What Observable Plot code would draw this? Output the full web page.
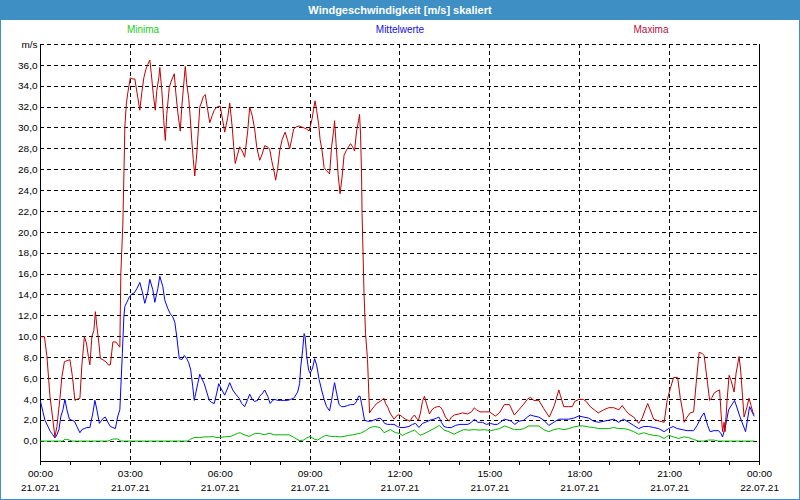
<!DOCTYPE html>
<html><head><meta charset="utf-8">
<script src="https://cdn.jsdelivr.net/npm/d3@7"></script>
<script src="https://cdn.jsdelivr.net/npm/@observablehq/plot@0.6"></script>
<style>
html,body{margin:0;padding:0;background:#fff;}
#frame{position:relative;width:800px;height:500px;box-sizing:border-box;border:1px solid #3d8fc4;border-top:none;font-family:"Liberation Sans",Arial,sans-serif;overflow:hidden;background:#fff;}
#title{position:absolute;left:-1px;top:0;width:800px;height:20px;background:#3d8fc4;color:#fff;font-weight:bold;font-size:11px;line-height:20px;text-align:center;}
.leg{position:absolute;top:24px;font-size:10px;line-height:12px;transform:translateX(-50%);white-space:nowrap;}
#chart{position:absolute;left:-1px;top:38px;}
</style></head>
<body>
<div id="frame">
  <div id="title">Windgeschwindigkeit [m/s] skaliert</div>
  <div class="leg" style="left:142px;color:#22cc22">Minima</div>
  <div class="leg" style="left:399px;color:#1010e0">Mittelwerte</div>
  <div class="leg" style="left:650px;color:#b5103c">Maxima</div>
  <div id="chart"></div>
</div>
<script>
// time in minutes since 21.07.21 00:00, value in m/s
const maxima = [[0,10.0],[8,10.0],[13,8.1],[19,4.3],[25,2.0],[29,0.4],[33,1.4],[39,4.1],[43,6.2],[48,7.6],[53,7.7],[59,7.8],[64,6.2],[69,3.9],[73,4.0],[79,4.1],[83,7.3],[88,10.0],[92,9.4],[96,8.1],[99,7.3],[103,10.0],[107,10.6],[110,12.4],[113,11.0],[117,9.4],[120,7.9],[125,7.8],[131,7.6],[136,7.3],[140,7.3],[145,9.5],[151,9.5],[159,9.0],[161,16.1],[165,20.8],[167,25.3],[169,30.1],[172,32.3],[175,33.4],[180,34.8],[185,34.7],[189,34.7],[195,32.9],[199,31.7],[203,33.4],[207,34.8],[211,35.6],[215,36.1],[219,36.5],[222,35.2],[226,33.2],[230,31.7],[233,33.6],[237,34.8],[239,35.8],[243,33.6],[247,30.7],[250,28.8],[253,31.3],[258,33.9],[262,34.5],[268,35.2],[271,33.4],[275,31.5],[280,29.7],[283,32.0],[288,34.8],[290,35.9],[293,34.2],[297,32.8],[300,31.0],[303,28.8],[306,27.0],[309,25.4],[313,27.5],[316,29.7],[319,32.0],[323,32.5],[326,33.0],[330,33.2],[335,31.7],[339,30.5],[344,31.2],[348,31.7],[353,32.0],
[360,32.1],[364,31.0],[369,29.6],[375,31.0],[379,32.4],[384,30.1],[387,28.2],[390,26.6],[395,27.5],[399,28.2],[405,27.7],[409,27.2],[415,29.7],[419,32.0],[424,31.2],[429,29.9],[433,28.2],[439,26.9],[444,27.5],[449,28.3],[454,28.2],[459,28.0],[463,26.9],[468,25.8],[471,25.0],[475,26.1],[479,27.8],[484,28.9],[490,29.6],[495,28.8],[499,28.0],[503,28.9],[507,29.9],[512,30.1],[518,30.2],[523,30.1],[528,30.0],[533,29.9],[538,29.7],[544,30.9],[547,31.8],[550,32.6],[553,31.7],[557,30.4],[560,28.9],[564,27.8],[568,26.2],[573,25.9],[579,25.6],[583,28.2],[587,29.7],[589,30.7],[592,28.5],[596,25.6],[600,23.7],[604,25.3],[608,27.4],[612,27.8],[617,28.2],[621,28.5],[625,28.2],[629,27.8],[633,29.7],[637,30.7],[639,31.3],[641,29.4],[643,25.6],[644,21.8],[646,18.0],[648,14.1],[651,10.3],[655,7.8],[659,2.7],[663,3.0],[668,3.3],[673,3.6],[680,3.8],[688,4.1],[691,3.6],[696,3.2],[700,2.7],[708,2.1],[715,2.5],[720,2.5],
[725,2.3],[731,2.1],[740,1.9],[745,2.3],[749,2.5],[753,2.2],[757,2.0],[761,2.7],[765,3.8],[769,4.3],[773,3.6],[779,2.6],[784,3.0],[789,3.2],[795,3.3],[800,3.3],[805,3.0],[811,2.3],[818,1.9],[823,2.3],[829,2.5],[838,2.6],[845,2.7],[855,2.6],[863,2.8],[869,3.2],[873,3.0],[880,2.8],[889,2.8],[899,2.8],[905,2.6],[911,2.4],[919,2.7],[929,3.5],[939,3.5],[949,2.5],[958,3.0],[967,3.5],[975,4.0],[981,4.2],[988,3.9],[998,3.9],[1008,3.1],[1019,2.3],[1029,3.4],[1038,4.9],[1041,4.4],[1048,3.3],[1058,3.3],[1065,3.3],[1070,3.8],[1078,4.0],
[1087,4.0],[1093,3.8],[1101,3.3],[1109,3.0],[1117,2.7],[1128,3.0],[1138,3.2],[1148,3.2],[1158,3.0],[1165,3.4],[1171,3.0],[1178,2.6],[1188,2.3],[1198,1.7],[1205,2.2],[1211,3.0],[1216,3.6],[1221,3.0],[1228,2.1],[1240,1.9],[1249,1.8],[1255,3.9],[1261,5.0],[1268,6.1],[1276,6.1],[1281,4.2],[1287,2.6],[1289,1.8],[1295,2.3],[1301,2.7],[1308,2.8],[1313,5.5],[1319,8.5],[1325,8.4],[1329,8.2],[1336,5.5],[1340,3.9],[1345,4.2],[1349,4.6],[1355,4.8],[1360,4.9],[1363,2.6],[1366,0.9],[1369,1.8],[1371,0.9],[1375,3.9],[1379,6.3],[1383,5.8],[1389,4.7],[1393,6.5],[1399,8.1],[1402,6.9],[1405,4.9],[1409,2.3],[1415,3.3],[1419,4.1],[1423,3.4],[1427,2.7],[1429,2.6]];

const mittelwerte = [[0,3.8],[5,2.8],[9,2.0],[15,1.4],[20,0.9],[25,0.6],[29,0.3],[33,0.6],[37,1.1],[41,2.4],[45,3.0],[49,4.0],[53,3.0],[58,2.1],[63,2.0],[68,1.9],[73,1.4],[79,0.8],[83,1.1],[88,1.2],[93,1.3],[99,1.3],[105,2.7],[109,3.9],[113,3.0],[118,1.7],[121,1.9],[126,2.2],[130,2.3],[135,1.8],[140,1.4],[145,1.3],[150,1.2],[155,2.4],[159,3.0],[161,5.2],[164,8.4],[167,11.9],[169,12.9],[173,13.3],[178,13.8],[183,14.1],[188,14.2],[193,14.6],[199,15.2],[204,14.3],[209,13.2],[215,14.3],[219,15.5],[225,14.5],[229,13.3],[235,14.6],[239,15.8],[245,14.8],[249,13.5],[255,12.7],[260,12.2],[265,11.9],[269,11.4],[273,10.0],[278,7.9],[283,7.8],[288,8.2],[293,7.9],[297,7.5],[301,6.8],[305,5.2],[308,3.9],[311,4.6],[315,5.5],[319,6.4],[323,6.0],[328,5.5],[333,4.7],[338,3.9],[343,3.7],[348,3.6],[353,4.6],[357,5.5],
[361,5.1],[369,4.4],[375,5.1],[379,5.6],[385,4.9],[391,4.5],[398,4.1],[403,3.6],[409,3.3],[415,4.0],[419,4.5],[424,4.0],[429,3.8],[435,3.9],[439,4.3],[445,4.6],[449,4.9],[455,4.3],[460,3.6],[465,3.9],[469,4.0],[475,3.9],[481,3.9],[488,3.9],[495,3.9],[501,4.0],[507,4.1],[510,4.3],[515,4.7],[519,5.5],[521,7.0],[525,8.7],[528,10.3],[530,10.0],[533,8.2],[537,6.8],[540,6.5],[545,7.0],[549,7.9],[553,7.3],[558,5.9],[563,4.9],[568,4.0],[573,3.3],[579,2.9],[583,3.9],[587,5.1],[589,5.6],[593,4.6],[598,3.5],[603,3.3],[608,3.3],[615,3.4],[621,3.5],[628,3.5],[633,3.8],[637,4.3],[640,4.3],[643,3.6],[646,2.8],[649,2.0],[655,1.9],[661,1.9],[667,2.0],[673,2.1],[680,2.2],[685,2.0],[689,1.7],[695,1.6],[701,1.6],[708,1.6],[715,1.4],[720,1.3],
[728,1.3],[738,1.4],[745,1.6],[751,1.7],[758,1.3],[765,1.7],[771,1.8],[780,2.0],[788,2.1],[793,2.2],[798,2.3],[803,1.8],[808,1.4],[815,1.3],[823,1.3],[831,1.5],[840,1.6],[848,1.6],[856,1.6],[863,1.8],[869,2.1],[876,1.8],[885,1.8],[893,1.6],[901,1.7],[908,1.6],[915,1.6],[921,1.8],[929,2.1],[938,2.0],[943,1.9],[950,1.6],[958,1.9],[968,2.0],[975,2.3],[981,2.5],[988,2.4],[998,2.3],[1008,2.0],[1018,1.5],[1028,1.8],[1038,2.1],[1048,2.1],[1058,2.1],[1068,2.2],[1078,2.4],
[1088,2.3],[1098,2.2],[1108,1.9],[1118,1.8],[1128,1.9],[1138,2.0],[1148,2.1],[1158,1.8],[1168,2.1],[1178,1.8],[1188,1.5],[1198,1.2],[1208,1.4],[1218,1.4],[1228,1.3],[1238,1.2],[1249,0.9],[1258,1.2],[1267,1.4],[1275,1.2],[1285,1.1],[1295,1.0],[1308,1.0],[1315,1.5],[1323,2.3],[1329,2.7],[1336,1.5],[1341,0.9],[1349,1.0],[1358,1.0],[1363,0.7],[1366,0.4],[1373,1.7],[1378,3.0],[1390,3.9],[1401,2.3],[1412,0.9],[1420,3.3],[1429,2.4]];

const minima = [[0,0],[45,0],[49,0.2],[58,0.1],[63,0],[135,0],[140,0.1],[145,0.2],[155,0.2],[161,0],[295,0],[301,0.2],[309,0.35],[318,0.35],[328,0.4],[338,0.4],[345,0.45],[351,0.35],[358,0.35],[368,0.4],[381,0.45],[388,0.6],[395,0.75],[400,0.8],[408,0.6],[418,0.45],[428,0.7],[438,0.75],[448,0.6],[458,0.75],[468,0.6],[481,0.6],[498,0.6],[508,0.35],[518,0.05],[527,0.1],[533,0.3],[540,0.45],[548,0.2],[555,0.1],[563,0.35],[571,0.55],[581,0.45],[591,0.45],[600,0.4],[608,0.45],[617,0.55],[625,0.6],[635,0.7],[641,0.75],[651,1.0],[660,1.3],[669,1.4],[680,1.3],[688,0.8],[696,1.0],[701,1.1],[711,0.8],[718,0.75],[725,0.55],[731,0.7],[741,0.9],[749,1.05],[755,0.8],[760,0.55],[768,0.7],[778,0.95],[788,1.2],[799,1.5],[808,1.05],[818,0.9],[828,0.65],[838,0.9],[848,1.1],[858,1.05],[869,1.1],[878,1.05],[889,1.1],[901,1.0],[911,1.1],[920,1.2],[929,1.45],[938,1.3],[949,1.1],[960,1.1],[968,1.2],[978,1.45],[988,1.45],[998,1.45],[1008,1.1],[1018,0.9],[1028,1.1],[1038,1.2],[1048,1.1],[1058,1.2],[1068,1.35],[1078,1.45],[1088,1.45],[1098,1.35],[1108,1.3],[1118,1.2],[1128,1.2],[1138,1.2],[1148,1.3],[1158,1.2],[1168,1.2],[1178,1.1],[1188,0.9],[1198,0.65],[1208,0.8],[1218,0.65],[1228,0.55],[1238,0.5],[1249,0.25],[1258,0.55],[1268,0.4],[1278,0.25],[1288,0.4],[1298,0.35],[1308,0.15],[1318,0],[1328,0],[1338,0.1],[1348,0.1],[1358,0],[1429,0]];

const xMajorTicks = [0, 180, 360, 540, 720, 900, 1080, 1260, 1440];
const xTimeLabels = ["00:00","03:00","06:00","09:00","12:00","15:00","18:00","21:00","00:00"];
const xDateLabels = ["21.07.21","21.07.21","21.07.21","21.07.21","21.07.21","21.07.21","21.07.21","21.07.21","22.07.21"];
const xHourTicks = d3.range(0, 1441, 60);
const yTickValues = [0,2,4,6,8,10,12,14,16,18,20,22,24,26,28,30,32,34,36,38];
const yTickLabels = ["0,0","2,0","4,0","6,0","8,0","10,0","12,0","14,0","16,0","18,0","20,0","22,0","24,0","26,0","28,0","30,0","32,0","34,0","36,0","m/s"];

const dash = {stroke: "#000", strokeOpacity: 1, strokeDasharray: "4,3", shapeRendering: "crispEdges"};
const chart = Plot.plot({
  width: 800, height: 460,
  marginLeft: 40, marginRight: 40, marginTop: 6, marginBottom: 36,
  style: {fontFamily: "'Liberation Sans', Arial, sans-serif", fontSize: "10px", background: "#fff", color: "#000", overflow: "visible"},
  x: {type: "linear", domain: [0, 1440], label: null},
  y: {domain: [-2, 38], label: null},
  marks: [
    Plot.gridY(yTickValues, dash),
    Plot.gridX(xMajorTicks.slice(1, -1), dash),
    Plot.ruleX([0, 1440], {stroke: "#000", shapeRendering: "crispEdges"}),
    Plot.ruleY([-2], {stroke: "#000", shapeRendering: "crispEdges"}),
    Plot.axisY(yTickValues, {tickSize: 0, tickPadding: 3, label: null, tickFormat: d => yTickLabels[yTickValues.indexOf(d)]}),
    Plot.axisX(xHourTicks, {tickSize: 4, label: null, tickFormat: () => "", shapeRendering: "crispEdges"}),
    Plot.axisX(xMajorTicks, {tickSize: 4, tickPadding: 4, label: null, tickFormat: d => xTimeLabels[xMajorTicks.indexOf(d)], shapeRendering: "crispEdges"}),
    Plot.axisX(xMajorTicks, {tickSize: 0, tickPadding: 22, label: null, tickFormat: d => xDateLabels[xMajorTicks.indexOf(d)]}),
    Plot.line(minima, {x: d => d[0], y: d => d[1], stroke: "#00b400", strokeWidth: 1}),
    Plot.line(mittelwerte, {x: d => d[0], y: d => d[1], stroke: "#0000ff", strokeWidth: 1}),
    Plot.line(maxima, {x: d => d[0], y: d => d[1], stroke: "#c00000", strokeWidth: 1})
  ]
});
document.getElementById("chart").appendChild(chart);
</script>
</body></html>
